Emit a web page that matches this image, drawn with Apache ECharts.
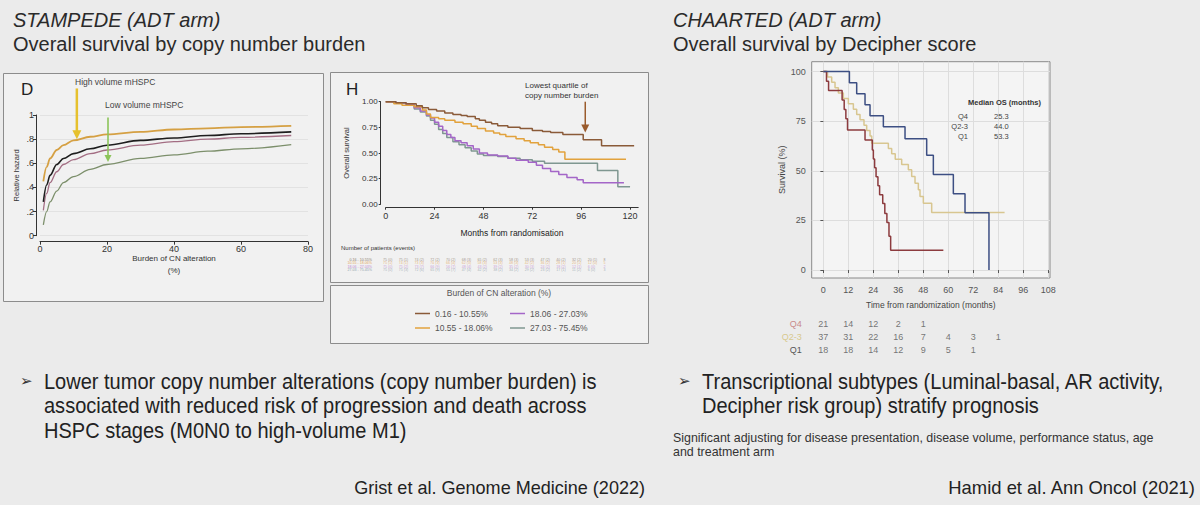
<!DOCTYPE html>
<html>
<head>
<meta charset="utf-8">
<title>Copy number burden / Decipher score survival</title>
<script src="https://cdn.jsdelivr.net/npm/echarts@6.0.0/dist/echarts.min.js"></script>
<style>
  html, body { margin: 0; padding: 0; background: #ebebeb; }
  #chart { width: 1200px; height: 505px; }
</style>
</head>
<body>
<div id="chart"></div>
<script>
// ---- Panel D: relative hazard vs burden of CN alteration (%)
const burdenX   = [1, 2, 3, 5, 7, 10, 15, 20, 30, 40, 50, 60, 75];
const hazHighVol = [0.45, 0.57, 0.64, 0.71, 0.75, 0.79, 0.82, 0.84, 0.86, 0.88, 0.89, 0.90, 0.91];
const hazAll     = [0.28, 0.42, 0.50, 0.59, 0.64, 0.68, 0.72, 0.75, 0.79, 0.81, 0.83, 0.845, 0.86];
const hazM0      = [0.21, 0.35, 0.44, 0.53, 0.59, 0.63, 0.68, 0.71, 0.75, 0.78, 0.80, 0.815, 0.83];
const hazLowVol  = [0.09, 0.20, 0.28, 0.37, 0.44, 0.49, 0.55, 0.59, 0.64, 0.67, 0.70, 0.72, 0.755];

// ---- Panel H: overall survival by CN burden quartile, [month, survival]
const cnGroups = ['0.16 - 10.55%', '10.55 - 18.06%', '18.06 - 27.03%', '27.03 - 75.45%'];
const kmQ1cn = [[0,1],[5,0.99],[10,0.98],[15,0.96],[18,0.94],[21,0.925],[25,0.91],[29,0.89],[33,0.875],[37,0.865],[40,0.855],[44,0.835],[46,0.82],[49,0.80],[52,0.785],[55,0.765],[60,0.75],[66,0.74],[72,0.72],[77,0.71],[81,0.70],[87,0.68],[97,0.63],[106,0.57],[122,0.57]];
const kmQ2cn = [[0,1],[4,0.98],[8,0.965],[14,0.95],[18,0.92],[20,0.88],[22,0.845],[26,0.835],[29,0.82],[34,0.80],[38,0.785],[42,0.76],[45,0.74],[49,0.715],[53,0.695],[56,0.68],[59,0.66],[64,0.64],[68,0.62],[71,0.60],[75,0.58],[78,0.555],[82,0.535],[85,0.51],[88,0.44],[118,0.435]];
const kmQ3cn = [[0,1],[5,0.99],[10,0.97],[14,0.94],[17,0.91],[20,0.87],[22,0.84],[24,0.80],[26,0.76],[28,0.72],[30,0.68],[32,0.65],[34,0.62],[37,0.60],[40,0.57],[43,0.54],[46,0.50],[50,0.48],[55,0.47],[60,0.45],[64,0.43],[70,0.41],[74,0.38],[77,0.35],[81,0.32],[85,0.29],[89,0.26],[94,0.24],[97,0.21],[117,0.21]];
const kmQ4cn = [[0,1],[5,0.99],[10,0.97],[14,0.93],[17,0.90],[20,0.86],[22,0.82],[24,0.78],[26,0.73],[28,0.69],[30,0.65],[33,0.61],[36,0.58],[39,0.55],[42,0.52],[45,0.49],[48,0.475],[55,0.465],[60,0.45],[66,0.435],[72,0.42],[78,0.40],[104,0.33],[114,0.17],[120,0.17]];
// number at risk (events) table, 15 columns
const atRiskQ1cn = [75,75,74,72,70,68,65,62,58,53,47,40,32,20,8];
const eventsQ1cn = [0,1,2,2,2,3,2,3,3,3,2,2,2,1];
const atRiskQ2cn = [75,74,73,70,66,62,58,53,48,42,36,28,20,12,5];
const eventsQ2cn = [1,1,3,3,4,3,3,3,3,2,2,1,1,0];
const atRiskQ3cn = [75,75,73,66,56,48,43,39,35,30,24,18,12,6,2];
const eventsQ3cn = [0,2,7,9,7,4,2,2,2,3,2,2,1,0];
const atRiskQ4cn = [75,75,72,65,55,47,42,38,34,29,23,17,11,6,3];
const eventsQ4cn = [0,3,6,9,7,4,2,2,2,2,2,1,2,0];

// ---- CHAARTED: survival (%) by Decipher score, [month, survival]
const decGroups = ['Q4', 'Q2-3', 'Q1'];
const kmQ4dec  = [[0,100],[1.5,95.2],[2.5,90.5],[9,85.7],[10,80.9],[10.8,76.2],[11.6,70.6],[20,65.5],[23.5,60.5],[24,56],[24.6,51.5],[25.3,47],[26.2,42.5],[27,38],[28.5,33.5],[29.5,28.5],[30.5,24],[31.5,17],[32.3,10],[57.6,10]];
const kmQ23dec = [[0,100],[2,97.3],[4,94.6],[5.6,91.9],[7.2,89.2],[9.6,86.5],[12,83.8],[14.4,81.1],[16,78.4],[17.6,75.7],[19.5,73],[20.8,70.3],[22.4,67.6],[23.2,63.9],[31.2,61.3],[32.8,58.6],[34.5,55.9],[37.6,53.2],[40.8,50.5],[42.4,47.2],[44,43.8],[45.6,40.5],[46.4,37.1],[48,33.7],[52,29],[87,29]];
const kmQ1dec  = [[0,100],[12.5,94.4],[16,88.9],[20,83.3],[22.4,77.8],[28.8,72.2],[39.2,66.2],[49.6,57.8],[52.8,48.1],[62.4,38.5],[68,28.9],[79.5,0]];
const monthTicksDec = [0, 12, 24, 36, 48, 60, 72, 84, 96, 108];
const survTicksDec  = [0, 25, 50, 75, 100];
const riskQ4dec  = [21, 14, 12, 2, 1];
const riskQ23dec = [37, 31, 22, 16, 7, 4, 3, 1];
const riskQ1dec  = [18, 18, 14, 12, 9, 5, 1];
const medianOS   = [25.3, 44.0, 53.3];

// annotation arrows, in data units of their panel: [gridIndex, x, yFrom, yTo]
const arrowHighVol = [0, 11, 1.22, 0.80];
const arrowLowVol  = [0, 20.3, 0.98, 0.61];
const arrowLowestQ = [1, 98, 1.0, 0.70];

const FONT = 'Liberation Sans';
const chart = echarts.init(document.getElementById('chart'), null, { renderer: 'svg' });

function curve(name, ys, color, width) {
  return {
    type: 'line', name, xAxisIndex: 0, yAxisIndex: 0,
    data: burdenX.map((x, i) => [x, ys[i]]),
    smooth: 0.35, smoothMonotone: 'x', symbol: 'none', clip: false,
    lineStyle: { color, width }, itemStyle: { color }
  };
}

function km(name, pts, idx, color, width) {
  return {
    type: 'line', name, xAxisIndex: idx, yAxisIndex: idx, data: pts,
    step: 'end', symbol: 'none', clip: false,
    lineStyle: { color, width }, itemStyle: { color }
  };
}

// risk table rows drawn as label-only scatter points
function riskRow(name, rowName, xs, texts, idx, color, fontSize, align) {
  return {
    type: 'scatter', name, xAxisIndex: idx, yAxisIndex: idx,
    data: xs.map((x, i) => [x, rowName, texts[i]]),
    symbolSize: 1, itemStyle: { color: 'rgba(0,0,0,0)' }, silent: true,
    label: { show: true, position: 'inside', align: align || 'center',
      formatter: p => p.data[2], color, fontSize, fontFamily: FONT }
  };
}

const cnColors  = ['#8a5a38', '#e2a23c', '#a466c8', '#7f9791'];
const cnText    = ['#8a7a6a', '#e3a860', '#c08ad0', '#93a3ab'];
const decColors = ['#8c3b3e', '#d8c690', '#3d4f83'];
const decText   = ['#c98a8a', '#d8c98e', '#555555'];

const cnRisk = [[atRiskQ1cn, eventsQ1cn], [atRiskQ2cn, eventsQ2cn], [atRiskQ3cn, eventsQ3cn], [atRiskQ4cn, eventsQ4cn]];
const decRisk = [riskQ4dec, riskQ23dec, riskQ1dec];

const series = [
  curve('Low volume mHSPC', hazLowVol, '#7c8f6b', 1.3),
  curve('M0', hazM0, '#a36d83', 1.3),
  curve('All', hazAll, '#1e1e1e', 1.6),
  curve('High volume mHSPC', hazHighVol, '#d5a043', 1.8),

  km(cnGroups[3], kmQ4cn, 1, cnColors[3], 1.5),
  km(cnGroups[2], kmQ3cn, 1, cnColors[2], 1.5),
  km(cnGroups[1], kmQ2cn, 1, cnColors[1], 1.5),
  km(cnGroups[0], kmQ1cn, 1, cnColors[0], 1.5),

  km('Decipher Q2-3', kmQ23dec, 2, decColors[1], 1.5),
  km('Decipher Q4', kmQ4dec, 2, decColors[0], 1.5),
  km('Decipher Q1', kmQ1dec, 2, decColors[2], 1.5)
];

decRisk.forEach((row, r) => {
  series.push(riskRow('risk ' + decGroups[r], decGroups[r],
    monthTicksDec.slice(0, row.length), row.map(String), 3, '#555', 9));
});
cnRisk.forEach(([n, e], r) => {
  series.push(riskRow('nar ' + r, cnGroups[r], n.map((v, i) => i),
    n.map((v, i) => (i < e.length ? v + ' (' + e[i] + ')' : String(v))), 4, cnText[r], 3.6, 'left'));
});

const axisCol = '#333';
function txt(x, y, text, fs, o) {
  o = o || {};
  return {
    type: 'text', x, y, z: 5, silent: true, scaleX: o.sx || 1,
    style: {
      text, fontSize: fs, fontFamily: o.ff || FONT,
      fontStyle: o.it ? 'italic' : 'normal', fontWeight: o.bold ? 'bold' : 'normal',
      fill: o.c || '#2a2a2a', align: o.al || 'left', verticalAlign: 'middle'
    }
  };
}
function box(x, y, w, h) {
  return { type: 'rect', z: -1, silent: true, shape: { x, y, width: w, height: h },
    style: { fill: '#f1f1f1', stroke: '#8c8c8c', lineWidth: 1 } };
}

const graphics = [
  box(3.5, 73.5, 320, 228),
  box(330.5, 72.5, 318, 210),
  box(330.5, 285.5, 318, 58),

  txt(13, 20, 'STAMPEDE (ADT arm)', 20, { it: true }),
  txt(13, 44, 'Overall survival by copy number burden', 20),
  txt(673, 20, 'CHAARTED (ADT arm)', 20, { it: true }),
  txt(673, 44, 'Overall survival by Decipher score', 20),

  txt(21, 89, 'D', 17, { c: '#222' }),
  txt(75, 81.5, 'High volume mHSPC', 8.5, { c: '#444' }),
  txt(105, 105, 'Low volume mHSPC', 8.5, { c: '#444' }),
  txt(174, 270, '(%)', 8, { c: axisCol, al: 'center' }),

  txt(346, 89, 'H', 17, { c: '#222' }),
  txt(525, 85, 'Lowest quartile of', 8, { c: '#333' }),
  txt(525, 95, 'copy number burden', 8, { c: '#333' }),
  txt(341, 248, 'Number of patients (events)', 6, { c: '#333' }),
  txt(499, 293, 'Burden of CN alteration (%)', 8.5, { c: '#555', al: 'center' }),

  txt(968, 102, 'Median OS (months)', 7.5, { bold: true, c: '#333' })
];
decGroups.forEach((g, i) => {
  graphics.push(txt(968, 116 + i * 10, g, 7.5, { c: '#444', al: 'right' }));
  graphics.push(txt(994, 116 + i * 10, medianOS[i].toFixed(1), 7.5, { c: '#444' }));
});
graphics.push(
  txt(20, 381, '➢', 15, { ff: 'DejaVu Sans', c: '#333' }),
  txt(44, 381, 'Lower tumor copy number alterations (copy number burden) is', 22, { sx: 0.91, c: '#222' }),
  txt(44, 405.5, 'associated with reduced risk of progression and death across', 22, { sx: 0.91, c: '#222' }),
  txt(44, 430, 'HSPC stages (M0N0 to high-volume M1)', 22, { sx: 0.91, c: '#222' }),
  txt(645, 487, 'Grist et al. Genome Medicine (2022)', 19, { sx: 0.95, al: 'right', c: '#222' }),
  txt(678, 381, '➢', 15, { ff: 'DejaVu Sans', c: '#333' }),
  txt(702, 381, 'Transcriptional subtypes (Luminal-basal, AR activity,', 22, { sx: 0.91, c: '#222' }),
  txt(702, 405.5, 'Decipher risk group) stratify prognosis', 22, { sx: 0.91, c: '#222' }),
  txt(673, 437, 'Significant adjusting for disease presentation, disease volume, performance status, age', 13.5, { sx: 0.92, c: '#333' }),
  txt(673, 451, 'and treatment arm', 13.5, { sx: 0.92, c: '#333' }),
  txt(1195, 487, 'Hamid et al. Ann Oncol (2021)', 19, { sx: 0.97, al: 'right', c: '#222' })
);

const stataLine = { show: true, onZero: false, lineStyle: { color: axisCol, width: 1 } };
const stataTick = { show: true, length: 3, lineStyle: { color: axisCol } };
const legendBase = {
  orient: 'vertical', top: 304, itemWidth: 15, itemHeight: 1.5, itemGap: 5.5,
  selectedMode: false, textStyle: { fontSize: 8.5, color: '#555', fontFamily: FONT }
};

chart.setOption({
  animation: false,
  textStyle: { fontFamily: FONT },
  grid: [
    { left: 40, top: 115, width: 268, height: 120.7 },
    { left: 385.7, top: 101.7, width: 252.5, height: 102.6 },
    { left: 811.7, top: 61.7, width: 238.3, height: 216.3, show: true,
      backgroundColor: '#f4f4f4', borderColor: '#8a8a8a', borderWidth: 1 },
    { left: 811.7, top: 317.5, width: 238.3, height: 39 },
    { left: 383, top: 258.2, width: 220.6, height: 14 }
  ],
  xAxis: [
    { gridIndex: 0, type: 'value', min: 0, max: 80, interval: 20, offset: 6,
      axisLine: stataLine, axisTick: stataTick,
      axisLabel: { fontSize: 9, color: axisCol, margin: 3 }, splitLine: { show: false },
      name: 'Burden of CN alteration', nameLocation: 'middle', nameGap: 12,
      nameTextStyle: { fontSize: 8, color: axisCol } },
    { gridIndex: 1, type: 'value', min: 0, max: 124, interval: 24, offset: 3.4,
      axisLine: stataLine, axisTick: { show: true, length: 2, lineStyle: { color: axisCol } },
      axisLabel: { fontSize: 9, color: axisCol, margin: 4, showMaxLabel: false }, splitLine: { show: false },
      name: 'Months from randomisation', nameLocation: 'middle', nameGap: 21,
      nameTextStyle: { fontSize: 8.5, color: '#222' } },
    { gridIndex: 2, type: 'value', min: -5.6, max: 108.8,
      axisLine: { show: false },
      axisTick: { show: true, length: 3, customValues: monthTicksDec, lineStyle: { color: '#555' } },
      axisLabel: { customValues: monthTicksDec, fontSize: 9, color: '#555', margin: 7 },
      splitLine: { show: true, lineStyle: { color: '#dddddd', width: 1 } },
      name: 'Time from randomization (months)', nameLocation: 'middle', nameGap: 22,
      nameTextStyle: { fontSize: 8.5, color: '#444' } },
    { gridIndex: 3, type: 'value', min: -5.6, max: 108.8, show: false },
    { gridIndex: 4, type: 'value', min: 0, max: 14, show: false }
  ],
  yAxis: [
    { gridIndex: 0, type: 'value', min: 0, max: 1, interval: 0.2, offset: 4,
      axisLine: stataLine, axisTick: stataTick,
      axisLabel: { fontSize: 9, color: axisCol, margin: 2,
        formatter: v => (v === 0 ? '0' : v === 1 ? '1' : v.toFixed(1).replace(/^0/, '')) },
      splitLine: { show: true, lineStyle: { color: '#e2e2e2' } },
      name: 'Relative hazard', nameLocation: 'middle', nameGap: 16,
      nameTextStyle: { fontSize: 7.5, color: axisCol } },
    { gridIndex: 1, type: 'value', min: 0, max: 1, interval: 0.25, offset: 5,
      axisLine: stataLine, axisTick: { show: true, length: 2, lineStyle: { color: axisCol } },
      axisLabel: { fontSize: 8, color: axisCol, margin: 3, formatter: v => v.toFixed(2) },
      splitLine: { show: false },
      name: 'Overall survival', nameLocation: 'middle', nameGap: 30,
      nameTextStyle: { fontSize: 7.5, color: axisCol } },
    { gridIndex: 2, type: 'value', min: -4, max: 105,
      axisLine: { show: false },
      axisTick: { show: true, length: 3, customValues: survTicksDec, lineStyle: { color: '#555' } },
      axisLabel: { customValues: survTicksDec, fontSize: 9, color: '#555', margin: 6 },
      splitLine: { show: true, lineStyle: { color: '#dddddd', width: 1 } },
      name: 'Survival (%)', nameLocation: 'middle', nameGap: 22,
      nameTextStyle: { fontSize: 9, color: '#444' } },
    { gridIndex: 3, type: 'category', data: decGroups, inverse: true,
      axisLine: { show: false }, axisTick: { show: false }, splitLine: { show: false },
      axisLabel: { interval: 0, margin: 10, fontSize: 9, formatter: (v, i) => '{r' + i + '|' + v + '}',
        rich: { r0: { color: decText[0], fontSize: 9 }, r1: { color: decText[1], fontSize: 9 }, r2: { color: decText[2], fontSize: 9 } } } },
    { gridIndex: 4, type: 'category', data: cnGroups, inverse: true,
      axisLine: { show: false }, axisTick: { show: false }, splitLine: { show: false },
      axisLabel: { interval: 0, hideOverlap: false, margin: 11, fontSize: 3.6, formatter: (v, i) => '{r' + i + '|' + v + '}',
        rich: { r0: { color: cnText[0], fontSize: 3.6 }, r1: { color: cnText[1], fontSize: 3.6 },
                r2: { color: cnText[2], fontSize: 3.6 }, r3: { color: cnText[3], fontSize: 3.6 } } } }
  ],
  legend: [
    Object.assign({}, legendBase, { left: 410,
      data: [{ name: cnGroups[0], icon: 'rect' }, { name: cnGroups[1], icon: 'rect' }] }),
    Object.assign({}, legendBase, { left: 505,
      data: [{ name: cnGroups[2], icon: 'rect' }, { name: cnGroups[3], icon: 'rect' }] })
  ],
  graphic: { elements: graphics },
  series
});

// arrows: placed through the panels' own scales once the grids exist
function arrow(spec, color, width, head) {
  const [g, x, y0, y1] = spec;
  const p0 = chart.convertToPixel({ gridIndex: g }, [x, y0]);
  const p1 = chart.convertToPixel({ gridIndex: g }, [x, y1]);
  return [
    { type: 'line', z: 6, silent: true,
      shape: { x1: p0[0], y1: p0[1], x2: p1[0], y2: p1[1] - head + 1 },
      style: { stroke: color, lineWidth: width } },
    { type: 'polygon', z: 6, silent: true,
      shape: { points: [[p1[0], p1[1]], [p1[0] - head / 2, p1[1] - head], [p1[0] + head / 2, p1[1] - head]] },
      style: { fill: color } }
  ];
}
chart.setOption({
  graphic: { elements: graphics.concat(
    arrow(arrowHighVol, '#e6c12e', 2.5, 9),
    arrow(arrowLowVol, '#8cc45a', 1.6, 7),
    arrow(arrowLowestQ, '#9a5b2c', 1.5, 8)
  ) }
});
</script>
</body>
</html>
